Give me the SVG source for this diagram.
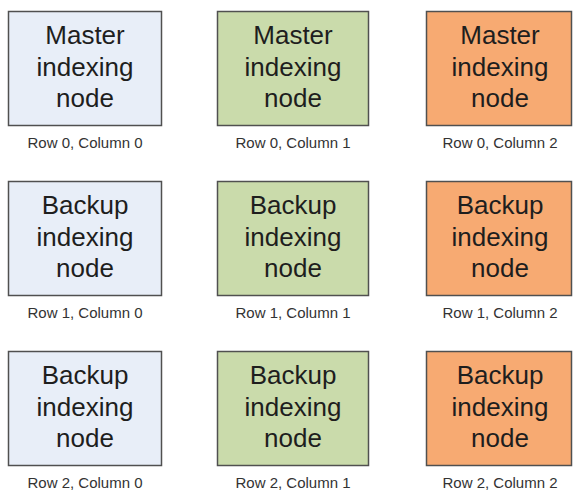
<svg xmlns="http://www.w3.org/2000/svg" width="573" height="491" viewBox="0 0 573 491">
<style>
.box{stroke:#505050;stroke-width:1.5}
.c0{fill:#e8eef8}
.c1{fill:#cadbab}
.c2{fill:#f7aa72}
.t{font-family:"Liberation Sans",Arial,sans-serif;font-size:26px;fill:#1e1e1e;text-anchor:middle}
.l{font-family:"Liberation Sans",Arial,sans-serif;font-size:15px;fill:#333;text-anchor:middle}
</style>
<rect width="573" height="491" fill="#fff"/>
<g id="n00"><rect class="box c0" x="8.5" y="11.5" width="153" height="114"/>
<text class="t" x="85" y="44">Master</text><text class="t" x="85" y="76">indexing</text><text class="t" x="85" y="107">node</text>
<text class="l" x="85" y="148">Row 0, Column 0</text></g>
<g id="n01"><rect class="box c1" x="217.5" y="11.5" width="151" height="114"/>
<text class="t" x="293" y="44">Master</text><text class="t" x="293" y="76">indexing</text><text class="t" x="293" y="107">node</text>
<text class="l" x="293" y="148">Row 0, Column 1</text></g>
<g id="n02"><rect class="box c2" x="426.5" y="11.5" width="145" height="114"/>
<text class="t" x="500" y="44">Master</text><text class="t" x="500" y="76">indexing</text><text class="t" x="500" y="107">node</text>
<text class="l" x="500" y="148">Row 0, Column 2</text></g>
<g id="n10"><rect class="box c0" x="8.5" y="181.5" width="153" height="114"/>
<text class="t" x="85" y="214">Backup</text><text class="t" x="85" y="246">indexing</text><text class="t" x="85" y="277">node</text>
<text class="l" x="85" y="318">Row 1, Column 0</text></g>
<g id="n11"><rect class="box c1" x="217.5" y="181.5" width="151" height="114"/>
<text class="t" x="293" y="214">Backup</text><text class="t" x="293" y="246">indexing</text><text class="t" x="293" y="277">node</text>
<text class="l" x="293" y="318">Row 1, Column 1</text></g>
<g id="n12"><rect class="box c2" x="426.5" y="181.5" width="145" height="114"/>
<text class="t" x="500" y="214">Backup</text><text class="t" x="500" y="246">indexing</text><text class="t" x="500" y="277">node</text>
<text class="l" x="500" y="318">Row 1, Column 2</text></g>
<g id="n20"><rect class="box c0" x="8.5" y="351.5" width="153" height="114"/>
<text class="t" x="85" y="384">Backup</text><text class="t" x="85" y="416">indexing</text><text class="t" x="85" y="447">node</text>
<text class="l" x="85" y="488">Row 2, Column 0</text></g>
<g id="n21"><rect class="box c1" x="217.5" y="351.5" width="151" height="114"/>
<text class="t" x="293" y="384">Backup</text><text class="t" x="293" y="416">indexing</text><text class="t" x="293" y="447">node</text>
<text class="l" x="293" y="488">Row 2, Column 1</text></g>
<g id="n22"><rect class="box c2" x="426.5" y="351.5" width="145" height="114"/>
<text class="t" x="500" y="384">Backup</text><text class="t" x="500" y="416">indexing</text><text class="t" x="500" y="447">node</text>
<text class="l" x="500" y="488">Row 2, Column 2</text></g>
<g id="connectors"/>
</svg>
